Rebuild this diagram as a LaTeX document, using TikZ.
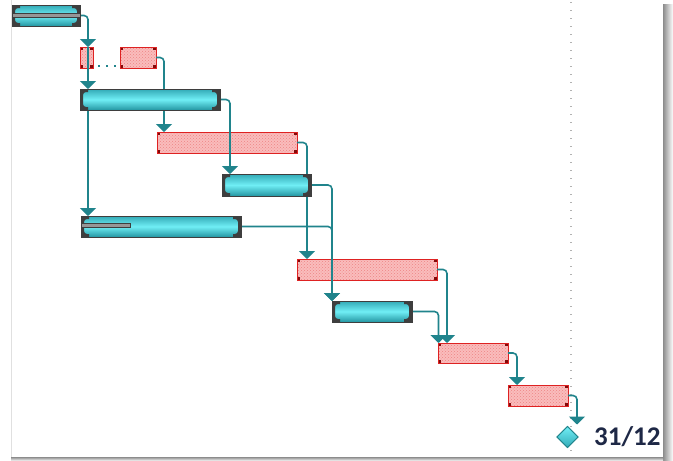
\documentclass[tikz,border=0pt]{standalone}
\usepackage{fontspec}
\newfontfamily\labelfont{Carlito}
\usetikzlibrary{arrows.meta,shapes.geometric,patterns,calc}
\definecolor{conncol}{RGB}{32,132,140}
\definecolor{cyanL}{RGB}{112,238,245}
\definecolor{cyanD}{RGB}{50,170,182}
\definecolor{cyanD2}{RGB}{36,150,162}
\definecolor{capg}{RGB}{62,62,62}
\definecolor{redb}{RGB}{222,34,34}
\definecolor{redf}{RGB}{250,188,188}
\definecolor{redc}{RGB}{130,10,10}
\definecolor{progf}{RGB}{150,150,150}
\definecolor{textc}{RGB}{30,40,70}
\begin{document}
\begin{tikzpicture}[x=1pt,y=-1pt,
  cbar/.style={rectangle, inner sep=0pt, outer sep=0pt, draw=capg, line width=0.8pt,
    top color=cyanD, bottom color=cyanD2, middle color=cyanL,
    path picture={
      \begin{scope}
        \clip (path picture bounding box.south west) rectangle ($(path picture bounding box.north west)+(8pt,0pt)$)
              ($(path picture bounding box.south east)+(-8pt,0pt)$) rectangle (path picture bounding box.north east);
        \fill[capg, even odd rule] (path picture bounding box.south west) rectangle (path picture bounding box.north east)
          [rounded corners=3pt] ($(path picture bounding box.south west)+(3pt,3pt)$) rectangle ($(path picture bounding box.north east)+(-3pt,-3pt)$);
      \end{scope}
    }},
  rbar/.style={rectangle, inner sep=0pt, outer sep=0pt, draw=redb, line width=1pt,
    preaction={fill=redf}, pattern=crosshatch dots, pattern color=redb!55,
    path picture={
      \fill[redc] (path picture bounding box.south west) rectangle ++(3pt,3pt);
      \fill[redc] (path picture bounding box.south east) rectangle ++(-3pt,3pt);
      \fill[redc] (path picture bounding box.north west) rectangle ++(3pt,-3pt);
      \fill[redc] (path picture bounding box.north east) rectangle ++(-3pt,-3pt);
    }},
  conn/.style={draw=conncol, line width=1.6pt, rounded corners=4pt,
    -{Triangle[width=16pt,length=8pt]}},
  dotline/.style={draw=conncol, line width=2pt, dash pattern=on 2pt off 6pt},
  prog/.style={fill=progf, draw=capg, line width=0.6pt},
  ms/.style={diamond, minimum width=21pt, minimum height=21pt, inner sep=0pt, outer sep=0pt,
    draw=conncol, line width=0.8pt, top color=cyanL, bottom color=cyanD},
  lbl/.style={anchor=base west, inner sep=0pt, text=textc,
    font=\labelfont\bfseries\fontsize{27}{30}\selectfont}
]
\useasboundingbox (0,0) rectangle (673,461);
% frame and shadow
\fill[white] (0,0) rectangle (673,461);
\shade[left color=black!45, right color=white] (663,4) rectangle (673,461);
\shade[top color=black!45, bottom color=white] (11,457) rectangle (663,461);
\draw[black!12, line width=0.6pt] (11.5,0) -- (11.5,457);
% today line
\draw[gray!60, line width=1.3pt, dash pattern=on 1.3pt off 6.7pt] (571,2) -- (571,457);

% red task bars
\node[rbar, minimum width=13pt, minimum height=21pt] (b2) at (86.5,57.5) {};
\node[rbar, minimum width=36pt, minimum height=21pt] (b3) at (138,57.5) {};
\node[rbar, minimum width=140pt, minimum height=21pt] (r2) at (227,142.5) {};
\node[rbar, minimum width=140pt, minimum height=21pt] (r3) at (367,269.5) {};
\node[rbar, minimum width=70pt, minimum height=20pt] (r4) at (473,353) {};
\node[rbar, minimum width=60pt, minimum height=21pt] (r5) at (538,395.5) {};
\node[ms] (ms) at (567.5,437) {};

% cyan bar positions (drawn after connectors)
\path (46,15.5) coordinate (pb1) (150,99.5) coordinate (pb5) (266.5,185) coordinate (pc2)
      (161,226.5) coordinate (pb6) (372,311.5) coordinate (pc3);
\node[cbar, minimum width=68pt, minimum height=21pt] (b1) at (pb1) {};
\node[cbar, minimum width=140pt, minimum height=21pt] (b5) at (pb5) {};
\node[cbar, minimum width=89pt, minimum height=22pt] (c2) at (pc2) {};
\node[cbar, minimum width=160pt, minimum height=21pt] (b6) at (pb6) {};
\node[cbar, minimum width=80pt, minimum height=21pt] (c3) at (pc3) {};

% connectors
\draw[dotline] ([xshift=5pt,yshift=2.5pt]b2.south east) -- ([xshift=-4pt,yshift=2.5pt]b3.south west);
\draw[conn] (b1.east) -| ([xshift=1.5pt]b2.north);
\draw[conn] ([xshift=1.5pt]b2.north) -- ([xshift=8pt]b5.north west);
\draw[conn] ([xshift=8pt]b5.south west) -- ([xshift=7pt]b6.north west);
\draw[conn] (b3.east) -| ([xshift=7pt]r2.north west);
\draw[conn] (b5.east) -| ([xshift=8pt]c2.north west);
\draw[conn] (r2.east) -| ([xshift=10pt]r3.north west);
\draw[conn] (b6.east) -| (c3.north west);
\draw[conn] (c2.east) -| (c3.north west);
\draw[conn] (r3.east) -| ([xshift=9pt]r4.north west);
\draw[conn] (c3.east) -| ([xshift=0.5pt]r4.north west);
\draw[conn] (r4.east) -| ([xshift=9pt]r5.north west);
\draw[conn, shorten >=2pt] (r5.east) -| ([xshift=9.5pt]ms.north);

% redraw cyan bars on top of connectors
\node[cbar, minimum width=68pt, minimum height=21pt] at (pb1) {};
\node[cbar, minimum width=140pt, minimum height=21pt] at (pb5) {};
\node[cbar, minimum width=89pt, minimum height=22pt] at (pc2) {};
\node[cbar, minimum width=160pt, minimum height=21pt] at (pb6) {};
\node[cbar, minimum width=80pt, minimum height=21pt] at (pc3) {};

% progress strips
\filldraw[prog] ([yshift=2.5pt]b1.west) rectangle ([yshift=-2pt]b1.east);
\filldraw[prog] ([yshift=3.5pt]b6.west) rectangle ([xshift=49pt,yshift=-1pt]b6.west);

\node[ms] at (ms) {};
\node[lbl] (date) at (594,445) {31/12};
\end{tikzpicture}
\end{document}
